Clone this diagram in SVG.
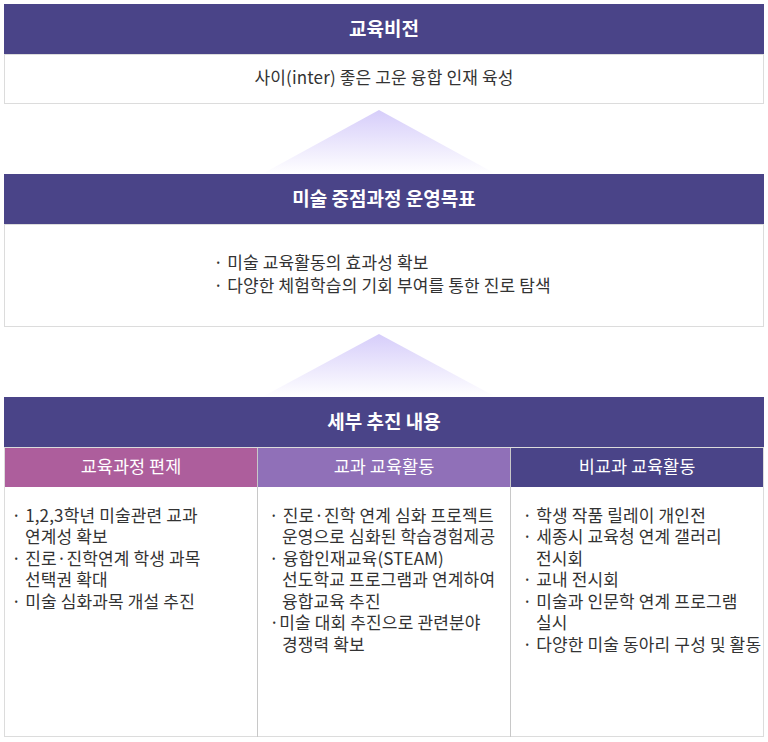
<svg xmlns="http://www.w3.org/2000/svg" width="768" height="742" viewBox="0 0 768 742">
<defs>
<linearGradient id="tri" x1="0" y1="0" x2="0" y2="1">
<stop offset="0" stop-color="#d6cdfa"/>
<stop offset="1" stop-color="#ffffff"/>
</linearGradient>
<style>
text{font-family:"Noto Sans CJK KR","Noto Sans",sans-serif;}
.hd{fill:#4a4488;}
.ht{fill:#ffffff;font-size:19px;font-weight:bold;text-anchor:middle;}
.st{fill:#ffffff;font-size:17.5px;text-anchor:middle;}
.box{fill:#ffffff;stroke:#dcdcdc;stroke-width:1;}
.bt{fill:#333333;font-size:17px;letter-spacing:0.15px;}
.div{stroke:#c8c8c8;stroke-width:1;}
</style>
</defs>
<rect width="768" height="742" fill="#ffffff"/>
<g id="connectors">
<polygon points="379,110 262,174 496,174" fill="url(#tri)"/>
<polygon points="379,334 262,397 496,397" fill="url(#tri)"/>
</g>
<g id="vision">
<rect class="hd" x="4" y="4" width="760" height="50"/>
<text class="ht" x="384" y="36">교육비전</text>
<rect class="box" x="4.5" y="54.5" width="759" height="49"/>
<text class="bt" x="384" y="84" text-anchor="middle">사이(inter) 좋은 고운 융합 인재 육성</text>
</g>
<g id="goals">
<rect class="hd" x="4" y="174" width="760" height="50"/>
<text class="ht" x="384" y="206">미술 중점과정 운영목표</text>
<rect class="box" x="4.5" y="224.5" width="759" height="102"/>
<text class="bt" x="213.5" y="269">· 미술 교육활동의 효과성 확보</text>
<text class="bt" x="213.5" y="291.5">· 다양한 체험학습의 기회 부여를 통한 진로 탐색</text>
</g>
<g id="details">
<rect class="hd" x="4" y="397" width="760" height="50"/>
<text class="ht" x="384" y="429">세부 추진 내용</text>
<rect class="box" x="4.5" y="447.5" width="759" height="289"/>
</g>
<g id="col1">
<rect x="5" y="448" width="252" height="39" fill="#ad5e9c"/>
<text class="st" x="131" y="473">교육과정 편제</text>
<text class="bt" x="11.5" y="521.5">· 1,2,3학년 미술관련 교과</text>
<text class="bt" x="25" y="543">연계성 확보</text>
<text class="bt" x="11.5" y="564.5">· 진로·진학연계 학생 과목</text>
<text class="bt" x="25" y="586">선택권 확대</text>
<text class="bt" x="11.5" y="607.5">· 미술 심화과목 개설 추진</text>
</g>
<g id="col2">
<rect x="258" y="448" width="252" height="39" fill="#9070b8"/>
<text class="st" x="384" y="473">교과 교육활동</text>
<text class="bt" x="269" y="521.5">· 진로·진학 연계 심화 프로젝트</text>
<text class="bt" x="282" y="543">운영으로 심화된 학습경험제공</text>
<text class="bt" x="269" y="564.5">· 융합인재교육(STEAM)</text>
<text class="bt" x="282" y="586">선도학교 프로그램과 연계하여</text>
<text class="bt" x="282" y="607.5">융합교육 추진</text>
<text class="bt" x="269.5" y="629">·미술 대회 추진으로 관련분야</text>
<text class="bt" x="282" y="650.5">경쟁력 확보</text>
</g>
<g id="col3">
<rect x="511" y="448" width="252" height="39" fill="#4a4488"/>
<text class="st" x="637" y="473">비교과 교육활동</text>
<text class="bt" x="522.5" y="521.5">· 학생 작품 릴레이 개인전</text>
<text class="bt" x="522.5" y="543">· 세종시 교육청 연계 갤러리</text>
<text class="bt" x="536" y="564.5">전시회</text>
<text class="bt" x="522.5" y="586">· 교내 전시회</text>
<text class="bt" x="522.5" y="607.5">· 미술과 인문학 연계 프로그램</text>
<text class="bt" x="536" y="629">실시</text>
<text class="bt" x="522.5" y="650.5">· 다양한 미술 동아리 구성 및 활동</text>
</g>
<g id="dividers">
<line class="div" x1="257.5" y1="448" x2="257.5" y2="737"/>
<line class="div" x1="510.5" y1="448" x2="510.5" y2="737"/>
</g>
</svg>
